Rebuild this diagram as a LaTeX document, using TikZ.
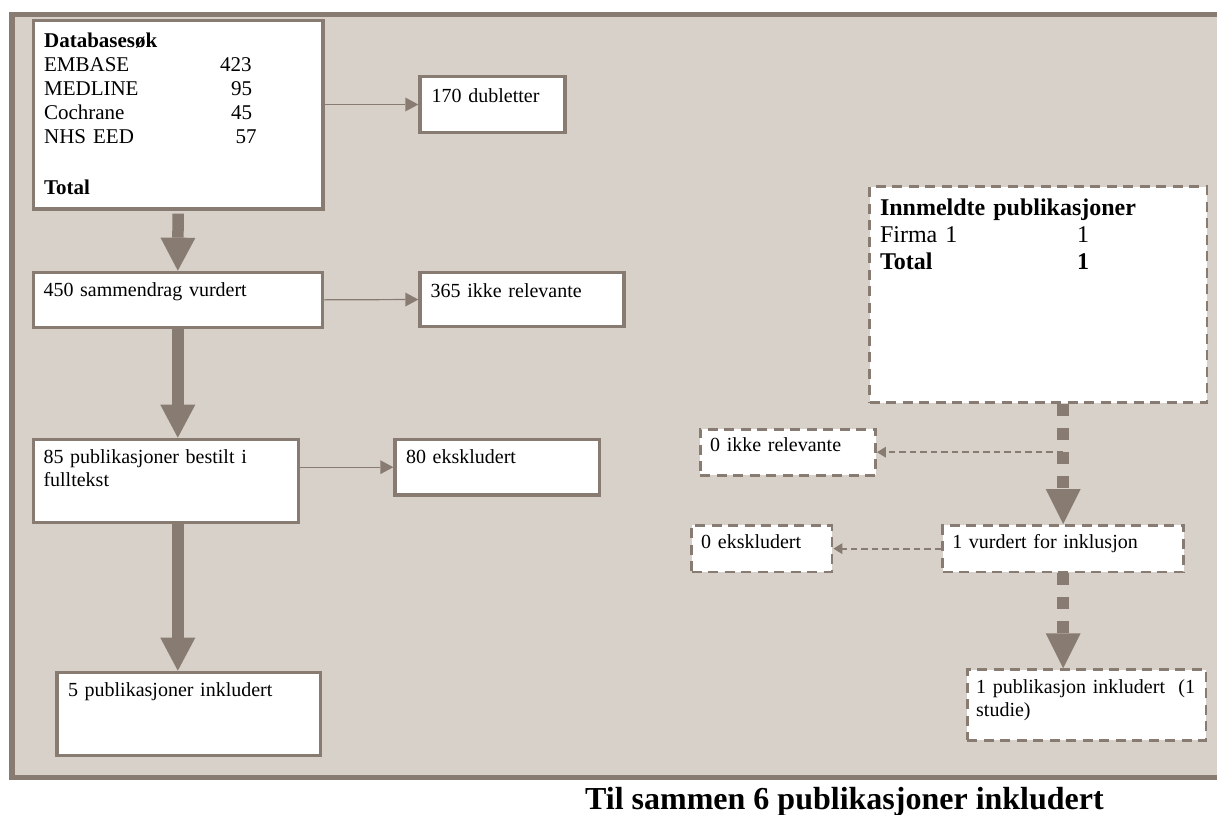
\documentclass[tikz,border=0pt]{standalone}
\usepackage{fontspec}
\setmainfont{Liberation Serif}
\usepackage{xcolor}
\usepackage{tikz}
\usetikzlibrary{arrows.meta}

\definecolor{framebrown}{RGB}{136,123,114}
\definecolor{panelbeige}{RGB}{216,209,202}
\newcommand{\dbrow}[3]{\makebox[#1][l]{#2}#3}

\begin{document}
\begin{tikzpicture}[x=1pt, y=-1pt,
        box/.style={draw=framebrown, line width=3.4pt, fill=white, anchor=north west,
            align=left, inner ysep=0pt, font=\fontsize{20}{23.5}\selectfont},
        dbox/.style={box, line width=2.8pt, dash pattern=on 10pt off 6.5pt},
        bigarrow/.style={draw=framebrown, line width=11.5pt,
            -{Triangle[width=35pt, length=33pt, line width=0pt]}},
        dbigarrow/.style={draw=framebrown, line width=12pt, dash pattern=on 12pt off 12pt,
            -{Triangle[width=35pt, length=35pt, line width=0pt]}},
        smallarrow/.style={draw=framebrown, line width=1.2pt,
            -{Triangle[width=14pt, length=13pt, line width=0pt]}},
        dsmallarrow/.style={draw=framebrown, line width=2pt, dash pattern=on 6.5pt off 4pt,
            -{Triangle[width=11pt, length=9pt, line width=0pt]}}]
        \useasboundingbox (0,0) rectangle (1217,814);
        \draw[framebrown, line width=5.5pt, fill=panelbeige] (11.8,14.5) rectangle (1240,777.3);

        % database search
        \node[box, font=\fontsize{21}{24}\selectfont, inner xsep=10.8pt, text width=268pt,
            text height=27pt, text depth=161.3pt] (db) at (31.6,19)
            {\textbf{Databasesøk}\\
             \dbrow{176pt}{EMBASE}{423}\\
             \dbrow{187pt}{MEDLINE}{95}\\
             \dbrow{187pt}{Cochrane}{45}\\
             \dbrow{191.5pt}{NHS EED}{57}\\[27pt]
             \textbf{Total}};
        \node[box, inner xsep=11.7pt, text width=121.6pt, text height=25.6pt, text depth=30pt]
            (dub) at (418.3,75) {170 dubletter};
        \node[box, inner xsep=10.2pt, text width=268.6pt, text height=24.3pt, text depth=30.6pt]
            (b450) at (31.6,270.7) {450 sammendrag vurdert};
        \node[box, inner xsep=10.7pt, text width=182.6pt, text height=24.9pt, text depth=29.3pt]
            (irr365) at (418.3,270.7) {365 ikke relevante};
        \node[box, inner xsep=10.2pt, text width=245pt, text height=23.9pt, text depth=59pt]
            (b85) at (31.6,437.7) {85 publikasjoner bestilt i\\fulltekst};
        \node[box, inner xsep=11pt, text width=182.5pt, text height=23.9pt, text depth=31.7pt]
            (eks80) at (393.3,437.7) {80 ekskludert};
        \node[box, inner xsep=11pt, text width=241.4pt, text height=24.3pt, text depth=58.9pt]
            (b5) at (55.3,670.7) {5 publikasjoner inkludert};

        % submitted publications
        \node[dbox, font=\fontsize{24}{27.2}\selectfont, inner xsep=10.3pt, text width=316.6pt,
            text height=28.3pt, text depth=187.6pt] (innm) at (868.3,185.3)
            {\textbf{Innmeldte publikasjoner}\\
             \dbrow{197pt}{Firma 1}{1}\\
             \textbf{\dbrow{197pt}{Total}{1}}};
        \node[dbox, inner xsep=9.9pt, text width=155.5pt, text height=22.6pt, text depth=23.6pt]
            (irr0) at (698.8,427.7) {0 ikke relevante};
        \node[dbox, inner xsep=9.5pt, text width=121.3pt, text height=22.9pt, text depth=23.6pt]
            (eks0) at (690.3,524) {0 ekskludert};
        \node[dbox, inner xsep=9.6pt, text width=221.8pt, text height=22.9pt, text depth=23.6pt]
            (vurd) at (941.3,524) {1 vurdert for inklusjon};
        \node[dbox, inner xsep=8.8pt, text width=221pt, text height=23.6pt, text depth=47pt]
            (pub1) at (966,668.3) {1 publikasjon inkludert\ \ (1\\studie)};

        \node[anchor=base west, inner sep=0pt, font=\bfseries\fontsize{32}{36}\selectfont]
            (sum) at (585,809) {Til sammen 6 publikasjoner inkludert};

        \draw[bigarrow, shorten <=3pt] (db.south) -- (b450.north);
        \draw[bigarrow] (b450.south) -- (b450.south |- b85.north);
        \draw[bigarrow] (b85.south -| b450.south) -- (b450.south |- b5.north);
        \draw[smallarrow] (db.east |- dub.west) -- (dub.west);
        \draw[smallarrow] (b450.east) -- (irr365.west);
        \draw[smallarrow] (b85.east |- eks80.west) -- (eks80.west);

        \draw[dsmallarrow] (vurd.north |- irr0.east) -- (irr0.east);
        \draw[dsmallarrow] (vurd.west) -- (eks0.east);
        \draw[dbigarrow] (vurd.north |- innm.south) -- (vurd.north);
        \draw[dbigarrow] (vurd.south) -- (vurd.south |- pub1.north);
\end{tikzpicture}
\end{document}
